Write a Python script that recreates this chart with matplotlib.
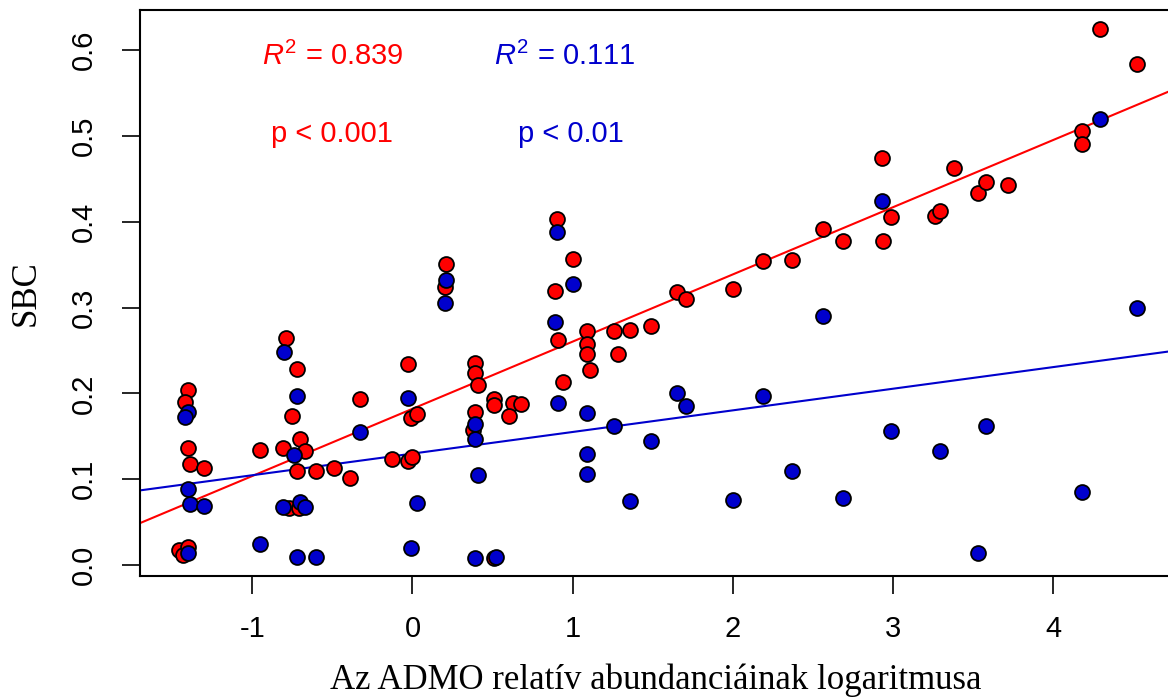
import numpy as np
import matplotlib
matplotlib.use("Agg")
import matplotlib.pyplot as plt

# values
red_x = [-1.40, -1.42, -1.40, -1.39, -1.30, -1.46, -1.43, -1.40,
         -0.95,
         -0.79, -0.72, -0.75, -0.70, -0.81, -0.67, -0.72, -0.60, -0.49, -0.39, -0.33, -0.77, -0.71,
         -0.03, -0.01, 0.03, -0.13, -0.03, 0.00,
         0.21, 0.20,
         0.39, 0.39, 0.41, 0.39, 0.38, 0.51,
         0.51, 0.51, 0.63, 0.68, 0.60,
         0.90, 1.00, 0.89, 0.91, 0.94,
         1.09, 1.09, 1.09, 1.11,
         1.26, 1.28, 1.36, 1.49, 1.65, 1.71,
         2.00, 2.19, 2.37, 2.56, 2.69, 2.93, 2.94, 2.99, 3.26, 3.29, 3.38, 3.53, 3.58, 3.72,
         4.18, 4.18, 4.29, 4.52]
red_y = [0.204, 0.190, 0.136, 0.118, 0.113, 0.017, 0.012, 0.021,
         0.134,
         0.265, 0.228, 0.174, 0.147, 0.136, 0.133, 0.110, 0.110, 0.113, 0.101, 0.193, 0.067, 0.066,
         0.234, 0.171, 0.176, 0.124, 0.121, 0.126,
         0.351, 0.324,
         0.235, 0.224, 0.210, 0.178, 0.157, 0.008,
         0.193, 0.187, 0.189, 0.188, 0.174,
         0.403, 0.357, 0.319, 0.262, 0.213,
         0.273, 0.257, 0.246, 0.227,
         0.273, 0.246, 0.274, 0.279, 0.318, 0.310,
         0.321, 0.354, 0.355, 0.391, 0.377, 0.474, 0.377, 0.405, 0.407, 0.413, 0.462, 0.433, 0.446, 0.443,
         0.506, 0.490, 0.624, 0.584]

blue_x = [-1.40, -1.42, -1.40, -1.39, -1.30, -1.40,
          -0.95,
          -0.80, -0.72, -0.74, -0.33, -0.81, -0.70, -0.67, -0.72, -0.60,
          -0.03, 0.03, -0.01,
          0.21, 0.20,
          0.39, 0.39, 0.41, 0.39, 0.52,
          0.90, 1.00, 0.89, 0.91,
          1.09, 1.09, 1.09,
          1.26, 1.36, 1.49, 1.65, 1.71,
          2.00, 2.19, 2.37, 2.56, 2.69, 2.93, 2.99, 3.29, 3.53, 3.58, 4.18, 4.29, 4.52]
blue_y = [0.178, 0.173, 0.089, 0.071, 0.069, 0.014,
          0.024,
          0.248, 0.197, 0.128, 0.155, 0.068, 0.073, 0.068, 0.009, 0.009,
          0.194, 0.072, 0.020,
          0.332, 0.305,
          0.164, 0.147, 0.105, 0.008, 0.009,
          0.388, 0.327, 0.283, 0.189,
          0.177, 0.129, 0.106,
          0.162, 0.075, 0.145, 0.200, 0.185,
          0.076, 0.197, 0.109, 0.290, 0.078, 0.424, 0.156, 0.133, 0.014, 0.162, 0.085, 0.520, 0.300]

# regression lines: (intercept, slope)
red_fit = (0.182, 0.0783)
blue_fit = (0.1298, 0.0252)

xticks = [-1, 0, 1, 2, 3, 4]
yticks = [0.0, 0.1, 0.2, 0.3, 0.4, 0.5, 0.6]

red_c = '#ff0000'
blue_c = '#0000cd'

plt.rcParams['mathtext.fontset'] = 'custom'
plt.rcParams['mathtext.rm'] = 'Liberation Sans'
plt.rcParams['mathtext.it'] = 'Liberation Sans:italic'

fig = plt.figure(figsize=(11.68, 6.98), dpi=100)
# right edge of the axes lies just outside the picture, as in the reference
ax = fig.add_axes([140 / 1168, 1 - 576 / 698, 1032 / 1168, 566.5 / 698])

ax.scatter(red_x, red_y, s=115, c=red_c, edgecolors='black', linewidths=1.3, zorder=3)
ax.scatter(blue_x, blue_y, s=115, c=blue_c, edgecolors='black', linewidths=1.3, zorder=4)

xlim = (-1.701, 4.741)
xs = np.array(xlim)
ax.plot(xs, red_fit[0] + red_fit[1] * xs, color=red_c, lw=1.5, zorder=2)
ax.plot(xs, blue_fit[0] + blue_fit[1] * xs, color=blue_c, lw=1.5, zorder=2)

ax.set_xlim(xlim)
ax.set_ylim(-0.0128, 0.6472)

ax.set_xticks(xticks)
ax.set_yticks(yticks)
ax.set_xticklabels([str(t) for t in xticks], fontsize=21, family='Liberation Sans')
ax.set_yticklabels(['%.1f' % t for t in yticks], fontsize=21, family='Liberation Sans',
                   rotation=90, va='center')
ax.tick_params(axis='x', length=13, width=1.2, pad=15)
ax.tick_params(axis='y', length=13, width=1.2, pad=17)
for sp in ax.spines.values():
    sp.set_linewidth(1.5)

ax.set_xlabel('Az ADMO relatív abundanciáinak logaritmusa', fontsize=25,
              family='Liberation Serif', labelpad=15)
ax.set_ylabel('SBC', fontsize=25, family='Liberation Serif', labelpad=20)

ax.text(-0.50, 0.593, r'$R^2$ = 0.839', color=red_c, fontsize=21, ha='center', va='center',
        family='Liberation Sans')
ax.text(0.95, 0.593, r'$R^2$ = 0.111', color=blue_c, fontsize=21, ha='center', va='center',
        family='Liberation Sans')
ax.text(-0.50, 0.502, 'p < 0.001', color=red_c, fontsize=21, ha='center', va='center',
        family='Liberation Sans')
ax.text(0.99, 0.502, 'p < 0.01', color=blue_c, fontsize=21, ha='center', va='center',
        family='Liberation Sans')

fig.savefig('out.png', dpi=100)
